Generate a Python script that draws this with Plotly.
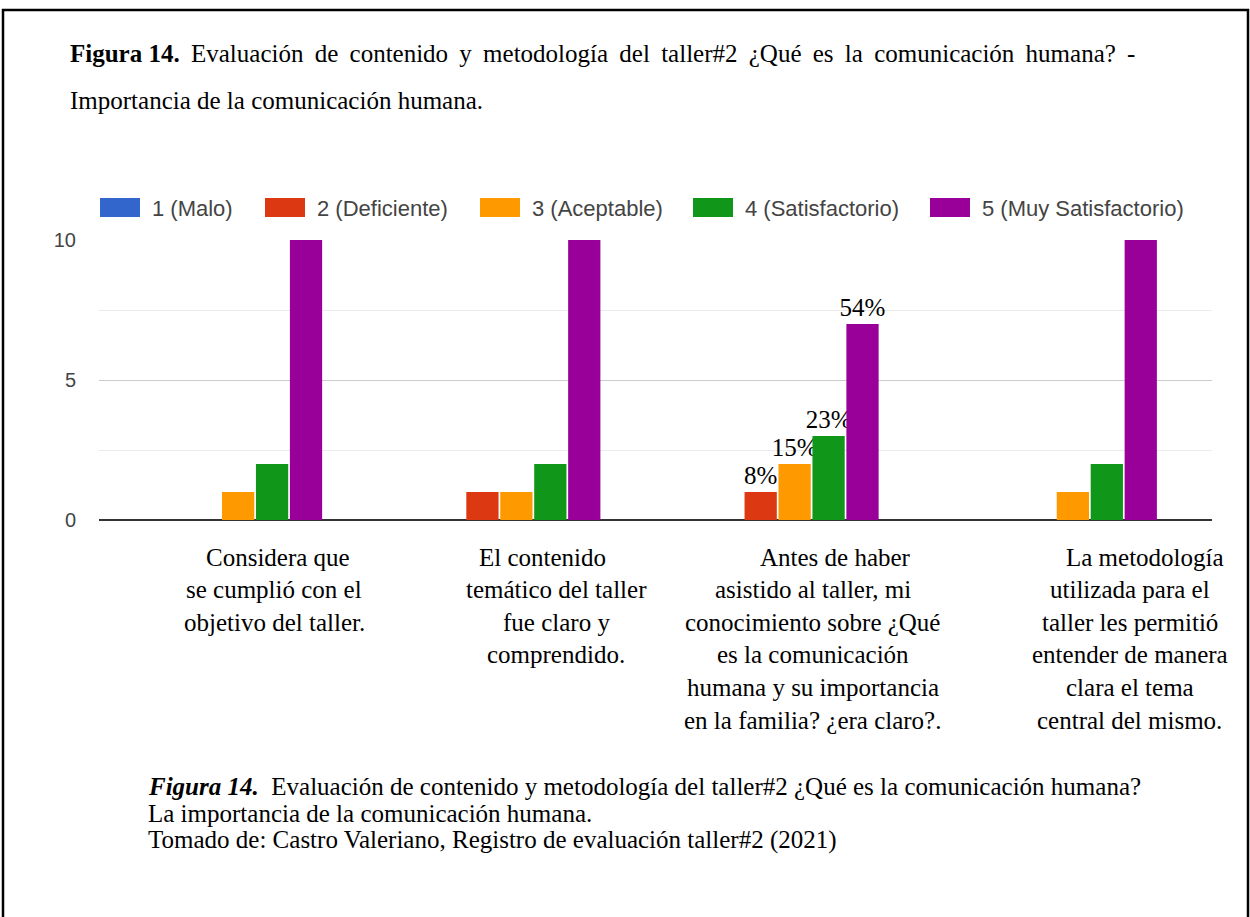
import plotly.graph_objects as go

# ---------------- data ----------------
categories = ["Q1", "Q2", "Q3", "Q4"]
category_lines = [
    ["Considera que", "se cumplió con el", "objetivo del taller."],
    ["El contenido", "temático del taller", "fue claro y", "comprendido."],
    ["Antes de haber", "asistido al taller, mi", "conocimiento sobre ¿Qué",
     "es la comunicación", "humana y su importancia", "en la familia? ¿era claro?."],
    ["La metodología", "utilizada para el", "taller les permitió",
     "entender de manera", "clara el tema", "central del mismo."],
]
series_names = ["1 (Malo)", "2 (Deficiente)", "3 (Aceptable)", "4 (Satisfactorio)", "5 (Muy Satisfactorio)"]
malo = [0, 0, 0, 0]
deficiente = [0, 1, 1, 0]
aceptable = [1, 1, 2, 1]
satisfactorio = [2, 2, 3, 2]
muy_satisfactorio = [10, 10, 7, 10]
series_values = [malo, deficiente, aceptable, satisfactorio, muy_satisfactorio]
# percentage labels shown only for the third question
series_labels = [
    ["", "", "", ""],
    ["", "", "8%", ""],
    ["", "", "15%", ""],
    ["", "", "23%", ""],
    ["", "", "54%", ""],
]
y_ticks = [0, 5, 10]

title_line1_bold = "Figura 14."
title_line1 = " Evaluación de contenido y metodología del taller#2 ¿Qué es la comunicación humana? -"
title_line2 = "Importancia de la comunicación humana."
caption_bold = "Figura 14."
caption_lines = [
    "  Evaluación de contenido y metodología del taller#2 ¿Qué es la comunicación humana?",
    "La importancia de la comunicación humana.",
    "Tomado de: Castro Valeriano, Registro de evaluación taller#2 (2021)",
]

# ---------------- style ----------------
colors = ["#3366cc", "#dc3912", "#ff9900", "#109618", "#990099"]
W, H = 1250, 917
PL, PR, PT, PB = 99, 1212, 240, 520   # plot area in pixels
SERIF = "Liberation Serif, Times New Roman, serif"
SANS = "Liberation Sans, Arial, sans-serif"


def px_x(px):
    return (px - PL) / (PR - PL)


def px_y(py):
    return (PB - py) / (PB - PT)


fig = go.Figure()
for name, vals, lab, col in zip(series_names, series_values, series_labels, colors):
    fig.add_trace(go.Bar(
        x=categories, y=vals, name=name, marker=dict(color=col, line=dict(width=0)),
        text=lab, textposition="outside", constraintext="none", cliponaxis=False,
        textfont=dict(family=SERIF, size=25, color="black"),
        showlegend=False, hoverinfo="skip",
    ))

annotations = []
shapes = []

# outer border
shapes.append(dict(type="rect", xref="paper", yref="paper",
                   x0=px_x(3), x1=px_x(1248), y0=px_y(925), y1=px_y(10),
                   line=dict(color="black", width=2.5), fillcolor="rgba(0,0,0,0)"))

# title (first line justified: thin spaces widen the word gaps)
title1_text = "<b>" + title_line1_bold + "</b>" + title_line1.replace(" ", " \u2009")
annotations.append(dict(xref="paper", yref="paper", x=px_x(68), y=px_y(54),
                        xanchor="left", yanchor="middle", showarrow=False,
                        text=title1_text,
                        font=dict(family=SERIF, size=25, color="black")))
annotations.append(dict(xref="paper", yref="paper", x=px_x(68), y=px_y(100),
                        xanchor="left", yanchor="middle", showarrow=False,
                        text=title_line2,
                        font=dict(family=SERIF, size=25, color="black")))

# custom legend
legend_box_x = [100, 265, 480, 693, 930]
for name, col, bx in zip(series_names, colors, legend_box_x):
    shapes.append(dict(type="rect", xref="paper", yref="paper",
                       x0=px_x(bx), x1=px_x(bx + 40), y0=px_y(217), y1=px_y(198),
                       line=dict(width=0), fillcolor=col))
    annotations.append(dict(xref="paper", yref="paper", x=px_x(bx + 50), y=px_y(208),
                            xanchor="left", yanchor="middle", showarrow=False,
                            text=name, font=dict(family=SANS, size=22, color="#444")))

# category labels (multi-line, below axis)
group_shift = [36, 40, 18, 57]
first_line_nudge = [4, -14, 23, 15]
line_gap = 32.6
for ci, (cat, lines) in enumerate(zip(categories, category_lines)):
    for li, line in enumerate(lines):
        xs = group_shift[ci] + (first_line_nudge[ci] if li == 0 else 0)
        annotations.append(dict(xref="x", yref="paper", x=cat, y=px_y(557 + li * line_gap),
                                xshift=xs, xanchor="center", yanchor="middle",
                                showarrow=False, text=line,
                                font=dict(family=SERIF, size=25, color="black")))

# caption
cap_size = 25
cap_y = [786, 813, 840]
annotations.append(dict(xref="paper", yref="paper", x=px_x(146), y=px_y(cap_y[0]),
                        xanchor="left", yanchor="middle", showarrow=False,
                        text="<b><i>" + caption_bold + "</i></b>" + caption_lines[0].replace(" ", "\u00a0", 2),
                        font=dict(family=SERIF, size=cap_size, color="black")))
for line, yy in zip(caption_lines[1:], cap_y[1:]):
    annotations.append(dict(xref="paper", yref="paper", x=px_x(146), y=px_y(yy),
                            xanchor="left", yanchor="middle", showarrow=False,
                            text=line, font=dict(family=SERIF, size=cap_size, color="black")))

fig.update_layout(
    width=W, height=H,
    margin=dict(l=PL, r=W - PR, t=PT, b=H - PB, pad=0),
    paper_bgcolor="white", plot_bgcolor="white",
    barmode="group", bargap=0.39, bargroupgap=0.05,
    shapes=shapes, annotations=annotations,
    showlegend=False,
    xaxis=dict(type="category", range=[-0.5, 3.5], showticklabels=False,
               showgrid=False, zeroline=False, showline=False, ticks=""),
    yaxis=dict(range=[0, 10], tickvals=y_ticks, ticktext=[str(v) for v in y_ticks],
               showgrid=True, gridcolor="#cccccc", gridwidth=1,
               minor=dict(dtick=2.5, showgrid=True, gridcolor="#ebebeb", gridwidth=1),
               zeroline=True, zerolinecolor="#333333", zerolinewidth=2,
               showline=False, ticks="", ticklabelstandoff=22,
               tickfont=dict(family=SANS, size=20, color="#444")),
)

fig.write_html("out.html", config={"displayModeBar": False},
               post_script="document.body.style.margin='0';document.body.style.overflow='hidden';")
